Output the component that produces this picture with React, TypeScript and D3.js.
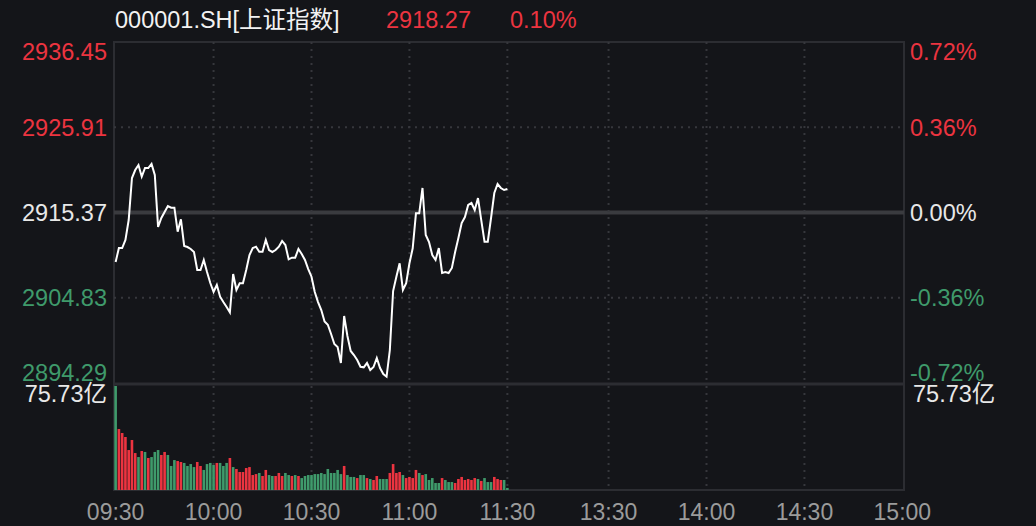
import * as d3 from 'd3';
import React from 'react';

// 上证指数 intraday, one value per minute from 09:30
const prices = [
  2909.25, 2910.98, 2910.98, 2911.97, 2914.44, 2919.63, 2920.62, 2921.24, 2919.80, 2920.87,
  2920.87, 2921.37, 2920.01, 2913.58, 2914.69, 2915.43, 2916.17, 2915.96, 2915.96, 2913.00,
  2914.53, 2911.23, 2911.10, 2910.86, 2910.49, 2908.26, 2908.26, 2909.50, 2908.01, 2906.65,
  2905.54, 2906.41, 2904.96, 2904.30, 2903.69, 2903.03, 2907.77, 2905.79, 2906.62, 2906.62,
  2908.26, 2910.11, 2910.98, 2911.14, 2910.52, 2910.52, 2911.97, 2910.73, 2910.49, 2910.73,
  2911.14, 2911.85, 2911.35, 2909.58, 2909.78, 2909.78, 2910.86, 2910.24, 2909.50, 2908.38,
  2907.43, 2905.54, 2904.30, 2903.31, 2901.89, 2901.50, 2900.35, 2899.11, 2898.74, 2896.76,
  2902.57, 2900.10, 2898.25, 2897.75, 2897.13, 2896.30, 2896.23, 2896.76, 2895.90, 2896.27,
  2897.38, 2896.14, 2895.40, 2895.07, 2898.37, 2905.66, 2907.43, 2909.09, 2905.79, 2906.62,
  2909.09, 2910.94, 2915.27, 2915.27, 2918.40, 2912.59, 2911.72, 2910.11, 2909.50, 2910.98,
  2907.89, 2908.01, 2907.89, 2908.51, 2910.49, 2912.22, 2914.07, 2914.81, 2916.30, 2916.54,
  2915.68, 2917.16, 2914.44, 2911.76, 2911.76, 2914.69, 2917.78, 2918.89, 2918.40, 2918.15,
  2918.27,
];

// 成交量 (亿)
const volumes = [
  75.73, 44.4, 41.5, 38.6, 29.1, 36.4, 26.9, 24.0, 28.4, 27.7,
  23.3, 24.0, 27.7, 29.1, 25.5, 27.7, 25.5, 17.5, 21.8, 21.1,
  20.4, 19.7, 17.5, 18.9, 16.7, 20.4, 17.5, 14.6, 18.9, 19.7,
  18.2, 19.7, 19.7, 17.5, 19.7, 23.3, 16.7, 15.3, 13.1, 13.1,
  16.0, 16.7, 10.9, 11.6, 12.4, 10.2, 14.6, 10.9, 10.2, 10.2,
  12.4, 10.2, 12.4, 10.9, 10.2, 10.9, 10.2, 8.7, 10.2, 10.9,
  10.9, 11.6, 11.6, 12.4, 11.6, 15.3, 12.4, 12.4, 14.6, 11.6,
  17.5, 10.9, 9.5, 9.5, 8.7, 10.9, 10.9, 8.7, 8.0, 7.3,
  10.2, 8.0, 8.0, 8.0, 12.4, 18.9, 12.4, 13.1, 10.9, 8.7,
  9.5, 8.7, 14.6, 12.4, 10.9, 11.6, 7.3, 8.7, 5.1, 5.1,
  8.7, 7.3, 5.8, 5.8, 5.1, 8.0, 9.5, 7.3, 8.0, 7.3,
  8.7, 8.0, 6.6, 8.7, 5.8, 5.8, 9.5, 8.0, 7.3, 7.3,
  1.5,
];

// 1 = red (up), 0 = green (down)
const volumeUp = [
  0, 1, 1, 1, 1, 1, 1, 0, 1, 0,
  1, 0, 0, 0, 1, 1, 0, 0, 0, 1,
  1, 0, 0, 0, 0, 1, 1, 0, 0, 0,
  0, 1, 0, 0, 0, 1, 0, 1, 1, 1,
  1, 1, 1, 1, 0, 1, 1, 0, 0, 1,
  1, 1, 0, 0, 1, 0, 1, 0, 0, 0,
  0, 0, 0, 0, 0, 0, 0, 0, 0, 0,
  1, 0, 0, 0, 1, 0, 0, 1, 0, 1,
  1, 0, 0, 0, 1, 1, 1, 1, 0, 1,
  1, 1, 1, 0, 1, 0, 0, 0, 0, 0,
  1, 0, 0, 0, 1, 1, 1, 1, 1, 1,
  1, 0, 1, 0, 0, 0, 1, 1, 1, 0,
  0,
];

const priceTicks = [2936.45, 2925.91, 2915.37, 2904.83, 2894.29];
const pctTicks = ['0.72%', '0.36%', '0.00%', '-0.36%', '-0.72%'];
const timeLabels = ['09:30', '10:00', '10:30', '11:00', '11:30', '13:30', '14:00', '14:30', '15:00'];
const timeSlots = [0, 30, 60, 90, 120, 151, 181, 211, 241];
const preClose = 2915.37;
const maxVolume = 75.73;
const title = '000001.SH[上证指数]';
const lastPrice = '2918.27';
const lastPct = '0.10%';

const W = 1036;
const H = 526;
const left = 114;
const right = 904;
const top = 42;
const priceBottom = 383;
const volTop = 386;
const volBottom = 490;

const RED = '#ec3440';
const GREEN = '#3f9a6b';
const GRID = '#2c2d32';
const FONT = '"Liberation Sans", Arial, "Noto Sans CJK SC", sans-serif';

function tickColor(v: number) {
  if (v > preClose + 0.001) return RED;
  if (v < preClose - 0.001) return GREEN;
  return '#e8e8e8';
}

export default function App() {
  const x = d3.scaleBand<number>()
    .domain(d3.range(242))
    .range([left, right])
    .paddingInner(0.2)
    .paddingOuter(0.1);
  const cx = (i: number) => (x(i) as number) + x.bandwidth() / 2;

  const y = d3.scaleLinear().domain([2894.29, 2936.45]).range([priceBottom, top]);
  const yv = d3.scaleLinear().domain([0, maxVolume]).range([volBottom, volTop]);

  const line = d3.line<number>()
    .x((_, i) => cx(i))
    .y((d) => y(d));

  const gridX = timeSlots.slice(1, -1);

  return (
    <svg width={W} height={H} style={{ position: 'absolute', left: 0, top: 0, fontFamily: FONT }}>
      <rect width={W} height={H} fill="#141519" />

      {/* header */}
      <text x={115} y={28} fontSize={23.5} fill="#f2f2f2">{title}</text>
      <text x={386} y={28} fontSize={23.5} fill={RED}>{lastPrice}</text>
      <text x={510} y={28} fontSize={23.5} fill={RED}>{lastPct}</text>

      {/* frame */}
      <rect x={left} y={top} width={right - left} height={volBottom - top} fill="none" stroke={GRID} strokeWidth={2} />
      <line x1={left} x2={right} y1={priceBottom + 1} y2={priceBottom + 1} stroke={GRID} strokeWidth={3} />

      {/* horizontal grid */}
      {priceTicks.slice(1, -1).map((p) => (
        <line key={p} x1={left} x2={right} y1={y(p)} y2={y(p)}
          stroke={p === preClose ? '#3a3b3f' : '#36373c'}
          strokeWidth={p === preClose ? 4 : 2}
          strokeDasharray={p === preClose ? undefined : '2,5'} />
      ))}

      {/* vertical grid */}
      {gridX.map((s) => (
        <g key={s}>
          <line x1={cx(s)} x2={cx(s)} y1={top} y2={priceBottom} stroke="#36373c" strokeWidth={2} strokeDasharray="2,5" />
          <line x1={cx(s)} x2={cx(s)} y1={volTop} y2={volBottom} stroke="#36373c" strokeWidth={2} strokeDasharray="2,5" />
        </g>
      ))}

      {/* volume bars */}
      {volumes.map((v, i) => (
        <rect key={i} x={x(i)} width={x.bandwidth()} y={yv(v)} height={volBottom - yv(v)}
          fill={volumeUp[i] ? RED : GREEN} />
      ))}

      {/* price line */}
      <path d={line(prices) || ''} fill="none" stroke="#ffffff" strokeWidth={2} strokeLinejoin="miter" />

      {/* left / right axis labels */}
      {priceTicks.map((p, i) => {
        let ty = y(p);
        if (i === 0) ty += 10;
        if (i === priceTicks.length - 1) ty -= 10;
        return (
          <g key={p}>
            <text x={107} y={ty} dy="0.36em" textAnchor="end" fontSize={23.5} fill={tickColor(p)}>{p.toFixed(2)}</text>
            <text x={910} y={ty} dy="0.36em" fontSize={23.5} fill={tickColor(p)}>{pctTicks[i]}</text>
          </g>
        );
      })}

      <text x={107} y={394} dy="0.36em" textAnchor="end" fontSize={23.5} fill="#e8e8e8">{maxVolume.toFixed(2)}亿</text>
      <text x={913} y={394} dy="0.36em" fontSize={23.5} fill="#e8e8e8">{maxVolume.toFixed(2)}亿</text>

      {/* time axis */}
      {timeLabels.map((t, i) => (
        <text key={t} x={cx(timeSlots[i])} y={512} dy="0.36em" textAnchor="middle" fontSize={23} fill="#9b9b9b">{t}</text>
      ))}
    </svg>
  );
}
